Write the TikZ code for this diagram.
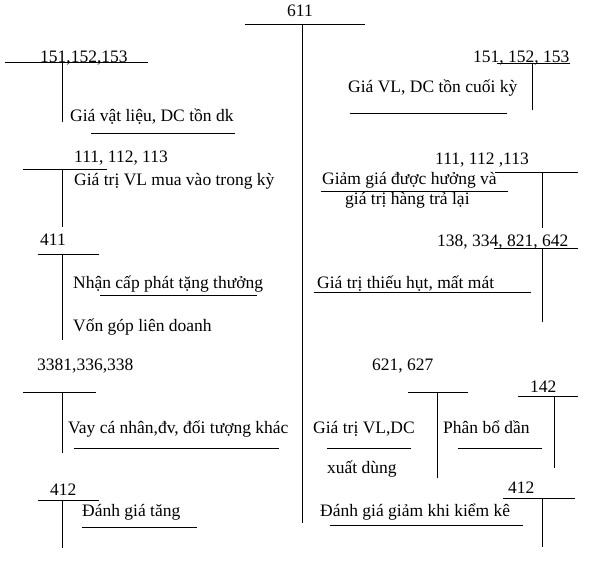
\documentclass[tikz,border=0pt]{standalone}
\usepackage{fontspec}
\setmainfont{Liberation Serif}
\begin{document}
\begin{tikzpicture}[x=1pt,y=-1pt,
  ln/.style={draw=black,line width=0.9pt},
  lbl/.style={anchor=base west,inner sep=0pt,font=\fontsize{17.5}{20}\selectfont}]
\useasboundingbox[fill=white] (0,0) rectangle (595,575);
% main account 611
\node[lbl,anchor=base] (t611) at (300,17) {611};
\draw[ln] (245,24) -- (365,24);
\draw[ln] (302,24) -- (302,523);
% left 151,152,153
\node[lbl] (a1) at (40,63) {151,152,153};
\draw[ln] (5,62) -- (148,62);
\draw[ln] (62,62) -- (62,122);
\node[lbl] (a1t) at (70,122) {Giá vật liệu, DC tồn dk};
\draw[ln] (91,133) -- (235,133);
% right 151, 152, 153
\node[lbl] (b1) at (473,63) {151, 152, 153};
\draw[ln] (497,63) -- (570,63);
\draw[ln] (532,63) -- (532,110);
\node[lbl] (b1t) at (348,93) {Giá VL, DC tồn cuối kỳ};
\draw[ln] (350,113) -- (507,113);
% left 111, 112, 113
\node[lbl] (a2) at (74,163) {111, 112, 113};
\draw[ln] (23,169) -- (107,169);
\draw[ln] (62,169) -- (62,227);
\node[lbl] (a2t) at (74,186) {Giá trị VL mua vào trong kỳ};
% 411
\node[lbl] (a3) at (40,245) {411};
\draw[ln] (38,254) -- (99,254);
\draw[ln] (62,254) -- (62,340);
\node[lbl] (a3t) at (73,288) {Nhận cấp phát tặng thưởng};
\draw[ln] (100,295) -- (257,295);
\node[lbl] (a3u) at (73,331) {Vốn góp liên doanh};
% 3381,336,338
\node[lbl] (a4) at (37,370) {3381,336,338};
\draw[ln] (23,392) -- (96,392);
\draw[ln] (62,392) -- (62,453);
\node[lbl] (a4t) at (68,433) {Vay cá nhân,đv, đối tượng khác};
\draw[ln] (74,448) -- (279,448);
% 412 left
\node[lbl] (a5) at (50,495) {412};
\draw[ln] (38,500) -- (99,500);
\draw[ln] (62,500) -- (62,548);
\node[lbl] (a5t) at (82,516) {Đánh giá tăng};
\draw[ln] (82,527) -- (197,527);
% right 111, 112 ,113
\node[lbl] (b2) at (435,165) {111, 112 ,113};
\draw[ln] (495,172) -- (578,172);
\draw[ln] (542,172) -- (542,228);
\node[lbl] (b2t) at (322,185) {Giảm giá được hưởng và};
\draw[ln] (321,191) -- (508,191);
\node[lbl] (b2u) at (345,205) {giá trị hàng trả lại};
% 138, 334, 821, 642
\node[lbl] (b3) at (437,247) {138, 334, 821, 642};
\draw[ln] (494,248) -- (578,248);
\draw[ln] (542,248) -- (542,322);
\node[lbl] (b3t) at (317,288) {Giá trị thiếu hụt, mất mát};
\draw[ln] (314,292) -- (531,292);
% 621, 627
\node[lbl] (b4) at (372,370) {621, 627};
\draw[ln] (408,392) -- (468,392);
\draw[ln] (437,392) -- (437,478);
\node[lbl] (b4t) at (313,433) {Giá trị VL,DC};
\draw[ln] (327,448) -- (411,448);
\node[lbl] (b4u) at (327,473) {xuất dùng};
% 142
\node[lbl] (b5) at (530,392) {142};
\draw[ln] (518,396) -- (578,396);
\draw[ln] (554,396) -- (554,468);
\node[lbl] (b5t) at (443,433) {Phân bổ dần};
\draw[ln] (458,448) -- (542,448);
% 412 right
\node[lbl] (b6) at (508,493) {412};
\draw[ln] (503,498) -- (575,498);
\draw[ln] (542,498) -- (542,547);
\node[lbl] (b6t) at (320,516) {Đánh giá giảm khi kiểm kê};
\draw[ln] (330,525) -- (523,525);
\end{tikzpicture}
\end{document}
